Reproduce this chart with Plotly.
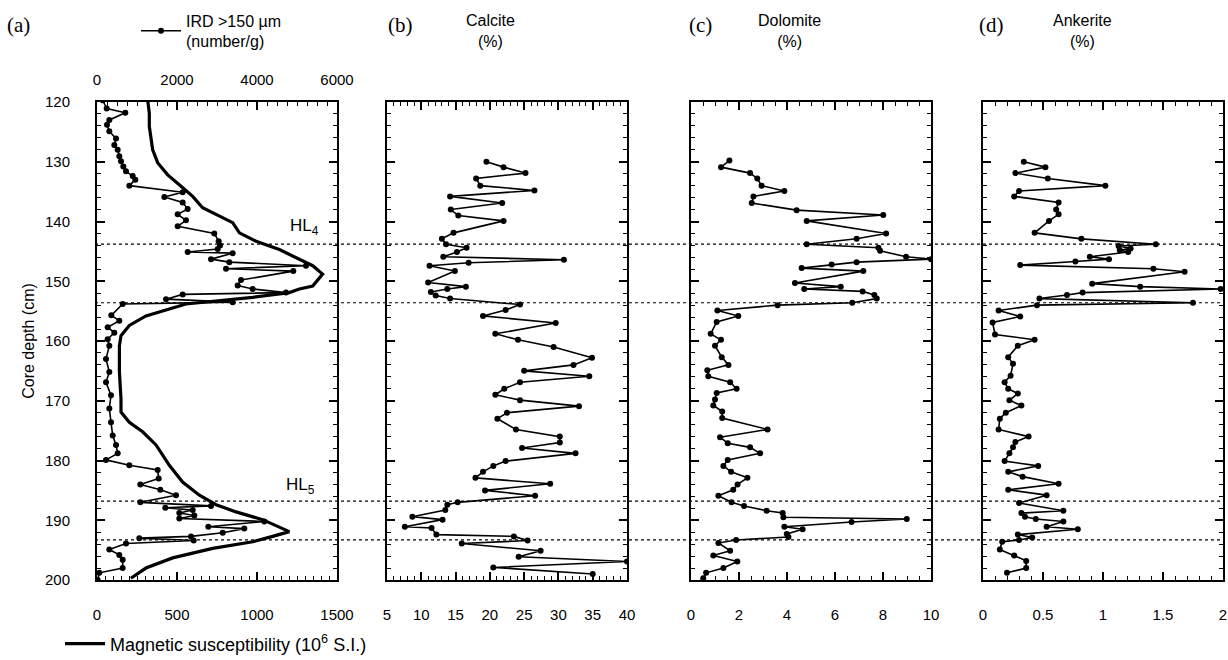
import plotly.graph_objects as go

# ---------------- data ----------------
ird_depth = [119.7,121.1,121.8,123.0,123.8,124.9,126.1,127.2,128.0,129.1,129.9,130.8,131.6,132.4,133.0,
             134.0,135.1,135.9,136.8,137.9,138.8,139.8,140.8,142.0,143.3,144.0,144.6,145.1,145.3,146.3,
             146.8,147.4,147.9,148.3,149.8,150.7,151.3,151.9,152.2,153.0,153.5,153.8,155.7,156.6,157.7,
             158.6,159.7,160.8,163.0,165.2,166.9,169.1,171.3,173.6,175.8,177.4,178.8,179.9,180.8,181.6,
             183.0,184.0,184.9,185.8,187.0,187.6,187.9,188.3,188.8,189.2,189.7,190.2,191.1,191.4,192.1,
             192.7,193.0,193.4,193.9,194.9,195.8,196.6,198.0,198.8,200.0]
ird_value = [142,242,708,308,250,308,475,433,517,558,600,658,725,892,958,
             808,2142,1683,2142,2267,2017,2225,2017,2933,3042,3075,3017,2267,3392,2850,
             3308,5225,3225,4908,3600,3517,3892,4725,2142,1725,3392,642,358,558,267,
             433,267,308,225,308,225,350,308,350,392,475,517,225,808,1517,
             1542,1083,1583,1975,1083,2850,1708,2392,2058,2433,2058,4183,2783,3683,3142,
             2350,1058,2417,725,308,558,642,642,58,17]

ms_depth = [119.7,121.9,124.1,126.3,128.0,130.2,132.2,134.1,135.8,137.7,139.1,140.2,141.9,143.3,144.7,
            146.3,147.4,148.8,150.8,151.3,151.9,152.7,153.3,153.8,155.8,157.4,159.1,160.8,163.0,165.2,
            169.7,171.9,173.6,175.2,177.4,180.8,183.6,185.8,187.4,188.6,189.9,191.1,191.9,192.7,193.6,
            194.7,196.3,198.0,199.7]
ms_value = [317,327,327,337,348,380,442,525,598,660,765,848,890,994,1140,
            1265,1348,1410,1348,1265,1202,973,765,556,306,202,150,140,140,140,
            150,150,202,285,369,452,535,640,744,869,1035,1140,1202,1098,973,
            723,473,306,212]

calcite_depth = [130.0,130.9,131.9,132.8,134.0,134.8,135.8,136.9,138.0,139.0,139.9,141.9,142.9,143.8,144.4,
                 145.1,145.9,146.4,146.9,147.4,148.3,150.2,150.9,151.3,151.8,152.4,152.9,153.9,154.8,155.8,
                 157.0,158.8,159.8,161.0,162.8,164.0,165.0,165.9,166.9,168.0,169.0,169.9,170.9,172.0,173.0,
                 174.8,176.0,177.0,177.9,178.8,180.1,180.9,181.9,182.9,183.9,185.0,185.9,187.0,187.4,188.3,
                 189.4,189.9,191.1,191.3,192.4,192.7,193.4,193.9,195.1,196.1,196.9,197.9,199.0]
calcite_value = [19.5,22.0,25.2,18.0,18.6,26.5,14.2,21.8,14.3,15.4,22.0,14.7,13.0,13.6,16.6,
                 15.2,13.2,30.8,16.9,11.2,14.9,11.0,16.5,13.8,11.4,12.1,14.2,24.4,22.3,19.0,
                 29.6,20.8,24.1,29.3,34.9,32.2,25.0,34.5,24.4,22.1,20.8,24.4,33.0,22.5,21.1,
                 23.8,30.2,30.2,24.7,32.5,22.3,20.5,19.0,17.9,28.8,19.3,26.6,15.3,13.8,13.5,
                 8.7,13.1,7.6,11.5,12.2,23.5,25.5,15.9,27.4,24.2,40.0,20.5,35.0]

dolomite_depth = [129.8,130.9,131.9,132.8,134.0,134.9,135.8,136.9,138.1,138.9,139.9,142.0,142.9,143.8,144.4,
                  144.9,145.9,146.3,146.8,147.2,147.8,148.3,150.3,150.9,151.3,151.7,152.3,152.9,153.6,154.0,
                  154.9,155.8,156.8,158.8,159.8,160.8,162.7,164.0,164.9,165.9,166.9,168.0,168.7,169.8,170.8,
                  171.8,172.9,174.8,176.1,177.1,177.8,178.8,179.9,180.9,181.9,182.9,184.0,184.9,185.9,187.0,
                  187.6,188.4,188.8,189.5,189.8,190.3,191.1,191.5,192.3,192.8,193.3,193.8,195.1,195.9,196.9,
                  198.0,198.8,199.7]
dolomite_value = [1.60,1.25,2.46,2.76,2.94,3.89,2.60,2.53,4.40,8.01,4.82,8.13,6.90,4.82,7.81,
                  7.88,8.96,10.0,6.90,5.86,4.61,7.18,4.33,6.24,4.72,7.15,7.64,7.74,6.72,3.61,
                  1.10,1.97,1.07,0.82,1.25,1.00,1.28,1.56,0.68,0.72,1.63,1.90,1.07,1.00,0.93,
                  1.30,1.30,3.19,1.21,1.53,2.46,2.88,1.53,1.35,1.67,2.35,1.94,1.76,1.14,1.69,
                  2.21,3.15,3.82,3.85,8.99,6.69,3.89,4.65,3.99,4.06,1.88,1.14,1.63,0.93,1.93,
                  1.35,0.63,0.51]

ankerite_depth = [130.0,130.9,131.9,132.8,134.0,134.9,135.8,136.8,138.0,138.8,139.9,141.9,142.9,143.8,144.1,
                  144.5,144.8,145.1,145.9,146.3,146.7,147.3,147.9,148.4,150.4,150.9,151.3,151.9,152.3,152.9,
                  153.6,154.0,154.9,155.9,156.9,158.9,159.8,160.8,162.7,163.8,165.8,166.9,168.0,168.8,169.9,
                  170.8,172.0,173.0,174.8,176.0,176.9,177.8,178.8,180.1,180.9,181.9,182.7,183.9,184.9,185.8,
                  187.1,188.4,188.8,189.4,189.8,190.2,191.1,191.5,192.4,192.9,193.3,193.6,194.9,195.9,196.8,
                  198.0,198.8]
ankerite_value = [0.34,0.52,0.27,0.54,1.02,0.30,0.26,0.63,0.61,0.63,0.55,0.43,0.82,1.44,1.13,
                  1.23,1.14,1.21,0.89,1.05,0.77,0.31,1.42,1.68,0.91,1.31,1.98,0.83,0.70,0.47,
                  1.75,0.45,0.13,0.31,0.08,0.10,0.43,0.29,0.21,0.25,0.23,0.18,0.21,0.29,0.22,
                  0.32,0.19,0.14,0.13,0.38,0.27,0.25,0.22,0.18,0.46,0.21,0.33,0.63,0.21,0.53,
                  0.30,0.67,0.32,0.35,0.44,0.67,0.53,0.79,0.29,0.41,0.30,0.16,0.14,0.26,0.36,
                  0.36,0.20]

hl_bounds = [143.8, 153.6, 186.8, 193.3]
panel_letters = ["(a)", "(b)", "(c)", "(d)"]
panel_titles = ["Calcite<br>(%)", "Dolomite<br>(%)", "Ankerite<br>(%)"]

# ---------------- layout helpers ----------------
W, H = 1228, 660
def px(x): return x / W
def py(y): return 1 - y / H

dom_a = [px(97), px(337)]
dom_b = [px(387), px(627)]
dom_c = [px(691), px(931)]
dom_d = [px(983), px(1223)]
ydom = [py(580), py(102)]

FONT = "Liberation Sans, Arial, sans-serif"
SERIF = "Liberation Serif, Times New Roman, serif"

fig = go.Figure()

line_style = dict(color="black", width=1.6)
mk = dict(color="black", size=6)

fig.add_trace(go.Scatter(x=ms_value, y=ms_depth, mode="lines", xaxis="x", yaxis="y",
                         line=dict(color="black", width=3.2),
                         name="Magnetic susceptibility (10<sup>6</sup> S.I.)",
                         legend="legend2", showlegend=True))
fig.add_trace(go.Scatter(x=ird_value, y=ird_depth, mode="lines+markers", xaxis="x2", yaxis="y",
                         line=line_style, marker=mk, name="IRD >150 µm<br>(number/g)",
                         legend="legend", showlegend=True))
fig.add_trace(go.Scatter(x=calcite_value, y=calcite_depth, mode="lines+markers", xaxis="x3", yaxis="y2",
                         line=line_style, marker=mk, showlegend=False))
fig.add_trace(go.Scatter(x=dolomite_value, y=dolomite_depth, mode="lines+markers", xaxis="x4", yaxis="y3",
                         line=line_style, marker=mk, showlegend=False))
fig.add_trace(go.Scatter(x=ankerite_value, y=ankerite_depth, mode="lines+markers", xaxis="x5", yaxis="y4",
                         line=line_style, marker=mk, showlegend=False))

tickfont = dict(family=FONT, size=15, color="black")

def xax(domain, rng, dtick, minor, anchor, mirror="ticks", **kw):
    d = dict(domain=domain, range=rng, dtick=dtick, tick0=0, anchor=anchor, automargin=False,
             showline=True, linecolor="black", linewidth=2, mirror=mirror,
             ticks="inside", ticklen=8, tickwidth=1.5, tickcolor="black",
             minor=dict(dtick=minor, ticks="inside", ticklen=4, tickwidth=1.2, tickcolor="black"),
             showgrid=False, zeroline=False, tickfont=tickfont, ticklabelstandoff=20)
    d.update(kw)
    return d

def yax(anchor, labels):
    return dict(domain=ydom, range=[200, 120], dtick=10, tick0=0, anchor=anchor, automargin=False,
                showline=True, linecolor="black", linewidth=2, mirror="ticks",
                ticks="inside", ticklen=8, tickwidth=1.5, tickcolor="black",
                minor=dict(dtick=2, ticks="inside", ticklen=4, tickwidth=1.2, tickcolor="black"),
                showgrid=False, zeroline=False, tickfont=tickfont, showticklabels=labels,
                ticklabelstandoff=22)

fig.update_layout(
    width=W, height=H, margin=dict(l=0, r=0, t=0, b=0, autoexpand=False),
    paper_bgcolor="white", plot_bgcolor="white",
    font=dict(family=FONT, size=15, color="black"),
    xaxis=xax(dom_a, [0, 1500], 500, 50, "y", mirror=False),
    xaxis2=xax(dom_a, [0, 6000], 2000, 250, "y", mirror=False, overlaying="x", side="top",
               ticklabelstandoff=9),
    xaxis3=xax(dom_b, [5, 40], 5, 1, "y2"),
    xaxis4=xax(dom_c, [0, 10], 2, 0.5, "y3"),
    xaxis5=xax(dom_d, [0, 2], 0.5, 0.1, "y4"),
    yaxis=dict(yax("x", True), title=dict(text="Core depth (cm)", standoff=6,
                                          font=dict(family=FONT, size=16))),
    yaxis2=yax("x3", False),
    yaxis3=yax("x4", False),
    yaxis4=yax("x5", False),
    legend=dict(x=px(136), y=py(31), xanchor="left", yanchor="middle", bgcolor="rgba(0,0,0,0)",
                font=dict(family=FONT, size=16), itemwidth=40, tracegroupgap=0),
    legend2=dict(x=px(60), y=py(644), xanchor="left", yanchor="middle", bgcolor="rgba(0,0,0,0)",
                 font=dict(family=FONT, size=18), itemwidth=40),
)

# HL boundaries: dotted lines across all panels
for d in hl_bounds:
    fig.add_shape(type="line", xref="paper", yref="y", x0=px(95), x1=px(1224), y0=d, y1=d,
                  line=dict(color="black", width=1.2, dash="dot"), layer="above")

# panel letters and titles
letter_x = [18, 400, 700, 991]
for lx, lt in zip(letter_x, panel_letters):
    fig.add_annotation(text=lt, x=px(lx), y=py(25), xref="paper", yref="paper", showarrow=False,
                       font=dict(family=SERIF, size=21), xanchor="center", yanchor="middle")
title_x = [490, 790, 1082]
for tx, tt in zip(title_x, panel_titles):
    fig.add_annotation(text=tt, x=px(tx), y=py(31), xref="paper", yref="paper", showarrow=False,
                       font=dict(family=FONT, size=16), xanchor="center", yanchor="middle")

# HL labels
fig.add_annotation(text="HL<sub>4</sub>", x=px(288), y=py(214), xref="paper", yref="paper",
                   showarrow=False, font=dict(family=FONT, size=17))
fig.add_annotation(text="HL<sub>5</sub>", x=px(284), y=py(499), xref="paper", yref="paper",
                   showarrow=False, font=dict(family=FONT, size=17))

fig.write_html("out.html", post_script="document.body.style.margin='0px';",
               config={"displayModeBar": False})
